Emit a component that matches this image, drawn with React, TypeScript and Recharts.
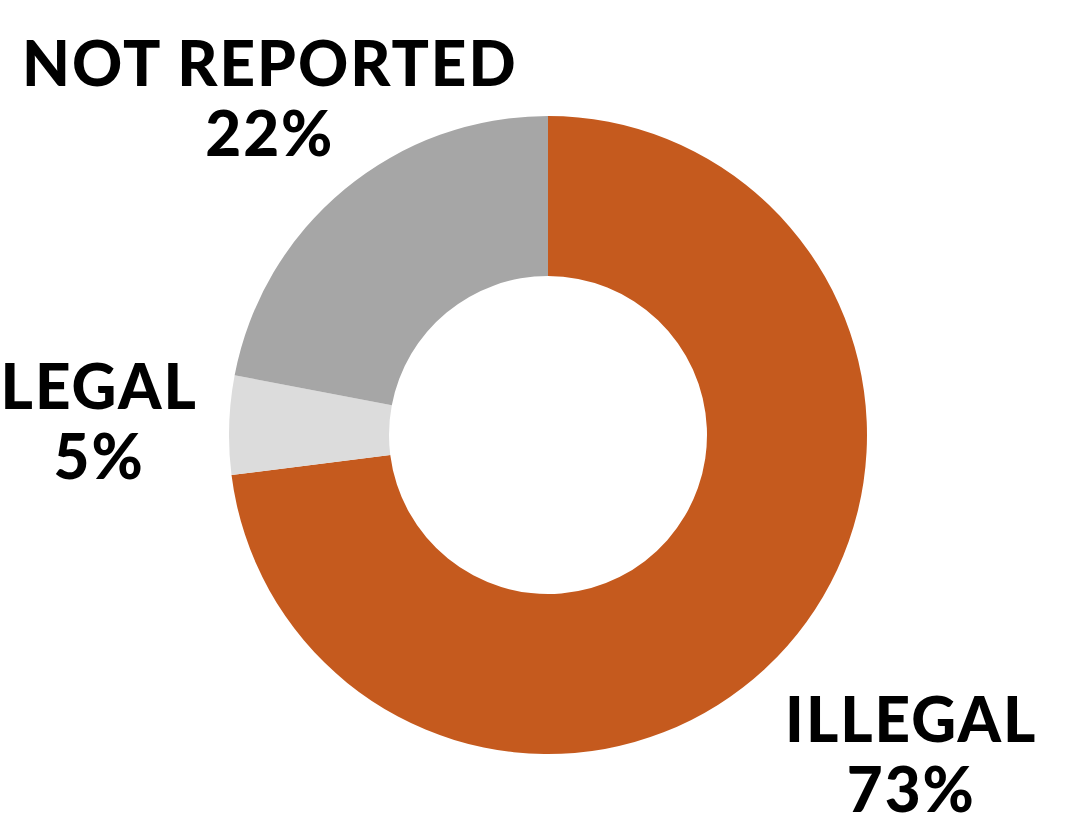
import React from 'react';
import { PieChart, Pie, Cell } from 'recharts';

const categories = ['ILLEGAL', 'LEGAL', 'NOT REPORTED'];
const shares = [73, 5, 22];
const colors = ['#C55A1E', '#DCDCDC', '#A6A6A6'];

// how far each label sits from the ring, measured along the slice's mid angle
const labelGap = [164, 131, 119];

const data = categories.map((name, i) => ({ name, value: shares[i] }));

const RADIAN = Math.PI / 180;

const textStyle = {
  fill: '#000',
  fontFamily: 'Lato, sans-serif',
  fontWeight: 900,
  fontSize: 62,
  letterSpacing: 2,
};

const renderLabel = (props: any) => {
  const { cx, cy, midAngle, outerRadius, index, name, value } = props;
  const r = outerRadius + labelGap[index];
  const x = cx + r * Math.cos(-midAngle * RADIAN);
  const y = cy + r * Math.sin(-midAngle * RADIAN);
  return (
    <g key={`label-${index}`}>
      <text x={x + 1} y={y - 12} textAnchor="middle" style={textStyle}>
        {name}
      </text>
      <text x={x + 1} y={y + 58} textAnchor="middle" style={textStyle}>
        {`${value}%`}
      </text>
    </g>
  );
};

export default function App() {
  return (
    <div style={{ position: 'absolute', left: 0, top: 0, background: '#fff' }}>
      <PieChart width={1070} height={820} margin={{ top: 0, right: 0, bottom: 0, left: 0 }}>
        <Pie
          data={data}
          dataKey="value"
          nameKey="name"
          cx={548}
          cy={435}
          innerRadius={159}
          outerRadius={319}
          startAngle={90}
          endAngle={-270}
          stroke="none"
          label={renderLabel}
          labelLine={false}
          isAnimationActive={false}
        >
          {data.map((entry, i) => (
            <Cell key={entry.name} fill={colors[i]} />
          ))}
        </Pie>
      </PieChart>
    </div>
  );
}
